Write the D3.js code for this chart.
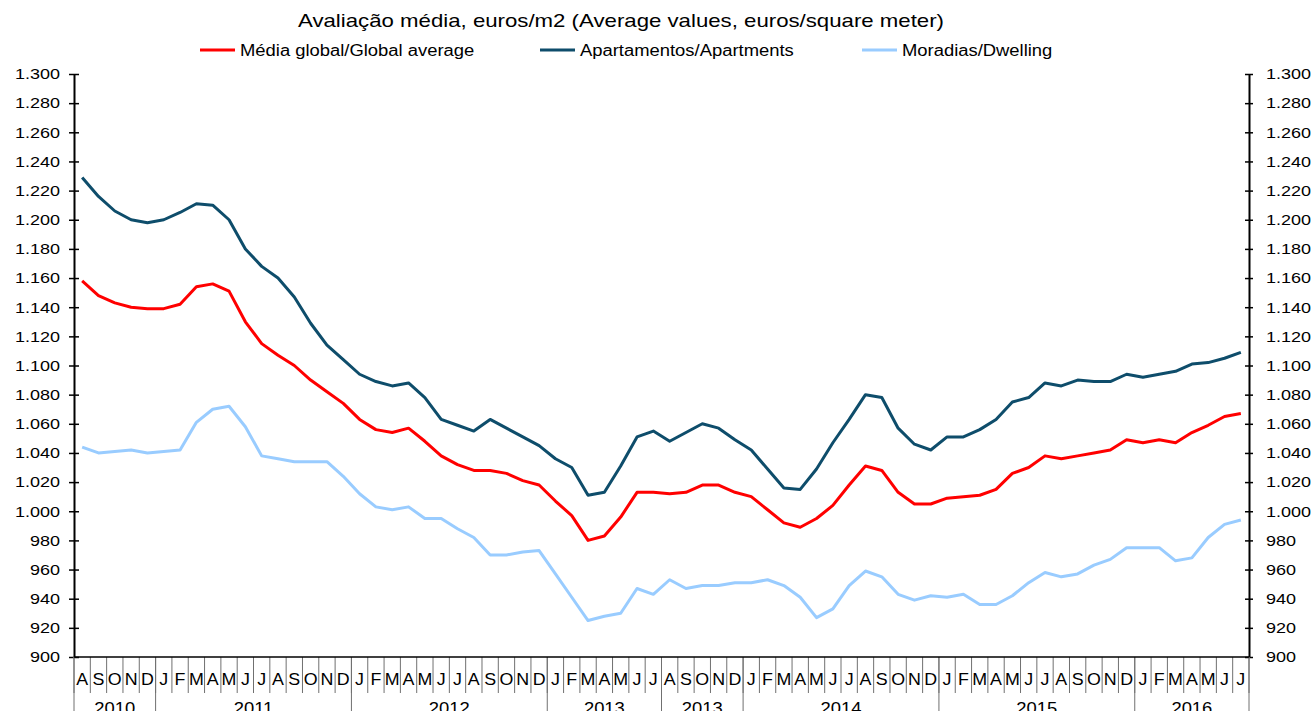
<!DOCTYPE html>
<html>
<head>
<meta charset="utf-8">
<script src="https://cdn.jsdelivr.net/npm/d3@7"></script>
<style>
  body { margin: 0; background: #fff; }
  svg { display: block; font-family: "Liberation Sans", Arial, sans-serif; }
</style>
</head>
<body>
<svg id="chart"></svg>
<script>
// month initials, Aug 2010 .. Jul 2016
const monthLabels = [
  "A","S","O","N","D",
  "J","F","M","A","M","J","J","A","S","O","N","D",
  "J","F","M","A","M","J","J","A","S","O","N","D",
  "J","F","M","A","M","J","J",
  "A","S","O","N","D",
  "J","F","M","A","M","J","J","A","S","O","N","D",
  "J","F","M","A","M","J","J","A","S","O","N","D",
  "J","F","M","A","M","J","J"
];
const yearLabels = ["2010", "2011", "2012", "2013", "2013", "2014", "2015", "2016"];
const yearSpans = [5, 12, 12, 7, 5, 12, 12, 7];

const globalAvg = [
  1158, 1148, 1143, 1140, 1139, 1139, 1142, 1154, 1156, 1151, 1130, 1115,
  1107, 1100, 1090, 1082, 1074, 1063, 1056, 1054, 1057, 1048, 1038, 1032,
  1028, 1028, 1026, 1021, 1018, 1007, 997, 980, 983, 996, 1013, 1013,
  1012, 1013, 1018, 1018, 1013, 1010, 1001, 992, 989, 995, 1004, 1018,
  1031, 1028, 1013, 1005, 1005, 1009, 1010, 1011, 1015, 1026, 1030, 1038,
  1036, 1038, 1040, 1042, 1049, 1047, 1049, 1047, 1054, 1059, 1065, 1067
];
const apartments = [
  1229, 1216, 1206, 1200, 1198, 1200, 1205, 1211, 1210, 1200, 1180, 1168,
  1160, 1147, 1129, 1114, 1104, 1094, 1089, 1086, 1088, 1078, 1063, 1059,
  1055, 1063, 1057, 1051, 1045, 1036, 1030, 1011, 1013, 1031, 1051, 1055,
  1048, 1054, 1060, 1057, 1049, 1042, 1029, 1016, 1015, 1029, 1047, 1063,
  1080, 1078, 1057, 1046, 1042, 1051, 1051, 1056, 1063, 1075, 1078, 1088,
  1086, 1090, 1089, 1089, 1094, 1092, 1094, 1096, 1101, 1102, 1105, 1109
];
const dwelling = [
  1044, 1040, 1041, 1042, 1040, 1041, 1042, 1061, 1070, 1072, 1058, 1038,
  1036, 1034, 1034, 1034, 1024, 1012, 1003, 1001, 1003, 995, 995, 988,
  982, 970, 970, 972, 973, 957, 941, 925, 928, 930, 947, 943,
  953, 947, 949, 949, 951, 951, 953, 949, 941, 927, 933, 949,
  959, 955, 943, 939, 942, 941, 943, 936, 936, 942, 951, 958,
  955, 957, 963, 967, 975, 975, 975, 966, 968, 982, 991, 994
];

const seriesNames = ["Média global/Global average", "Apartamentos/Apartments", "Moradias/Dwelling"];
const seriesColors = ["#ff0000", "#0e4d6b", "#99ccff"];
const yTicks = d3.range(900, 1301, 20);

const width = 1312;
const height = 711;
const margin = { top: 74, right: 63, bottom: 54, left: 74 };

const svg = d3.select("#chart")
  .attr("width", width)
  .attr("height", height);

// the source text is drawn a bit wider than the font's natural width
function stretch(sel, k) {
  sel.each(function () {
    const w = this.getComputedTextLength();
    d3.select(this)
      .attr("textLength", w * k)
      .attr("lengthAdjust", "spacingAndGlyphs");
  });
}

const x = d3.scaleBand()
  .domain(d3.range(monthLabels.length))
  .range([margin.left, width - margin.right])
  .padding(0);

const y = d3.scaleLinear()
  .domain([900, 1300])
  .range([height - margin.bottom, margin.top]);

const locale = d3.formatLocale({ decimal: ",", thousands: ".", grouping: [3], currency: ["", "€"] });
const fmt = locale.format(",");

// title
svg.append("text")
  .attr("x", 621)
  .attr("y", 27)
  .attr("text-anchor", "middle")
  .attr("font-size", "19px")
  .attr("textLength", 646)
  .attr("lengthAdjust", "spacingAndGlyphs")
  .text("Avaliação média, euros/m2 (Average values, euros/square meter)");

// legend
const legendX = [200, 540, 862];
const legend = svg.append("g");
seriesNames.forEach((name, i) => {
  legend.append("line")
    .attr("x1", legendX[i])
    .attr("x2", legendX[i] + 35)
    .attr("y1", 50)
    .attr("y2", 50)
    .attr("stroke", seriesColors[i])
    .attr("stroke-width", 3);
  legend.append("text")
    .attr("x", legendX[i] + 40)
    .attr("y", 56)
    .attr("font-size", "16px")
    .text(name);
});
stretch(legend.selectAll("text"), 1.15);

// y axes
const plotBottom = height - margin.bottom;
const leftAxis = svg.append("g")
  .attr("transform", `translate(${margin.left},0)`)
  .call(d3.axisLeft(y).tickValues(yTicks).tickFormat(fmt).tickSize(5).tickSizeOuter(0).tickPadding(9));
const rightAxis = svg.append("g")
  .attr("transform", `translate(${width - margin.right},0)`)
  .call(d3.axisRight(y).tickValues(yTicks).tickFormat(fmt).tickSize(4).tickSizeOuter(0).tickPadding(13));

leftAxis.selectAll(".tick line").attr("x1", 5).attr("stroke-width", 1.5);
rightAxis.selectAll(".tick line").attr("x1", -4).attr("stroke-width", 1.5);
[leftAxis, rightAxis].forEach(g => {
  g.select(".domain").attr("stroke-width", 2);
  g.selectAll("text").attr("font-size", "15px").attr("fill", "#000")
    .attr("font-family", "'Liberation Sans', Arial, sans-serif");
  stretch(g.selectAll(".tick text"), 1.2);
});

// category axis: month band + year band
const cat = svg.append("g");
const monthBottom = plotBottom + 36;
const edgeX = d => d < monthLabels.length ? x(d) : x.range()[1];

// separators between months
cat.selectAll("line.msep")
  .data(d3.range(monthLabels.length + 1))
  .join("line")
  .attr("class", "msep")
  .attr("x1", edgeX)
  .attr("x2", edgeX)
  .attr("y1", plotBottom)
  .attr("y2", monthBottom)
  .attr("stroke", "#707070")
  .attr("stroke-width", 1);

cat.selectAll("text.month")
  .data(monthLabels)
  .join("text")
  .attr("class", "month")
  .attr("x", (d, i) => x(i) + x.bandwidth() / 2)
  .attr("y", plotBottom + 28)
  .attr("text-anchor", "middle")
  .attr("font-size", "16.5px")
  .text(d => d);
stretch(cat.selectAll("text.month"), 1.08);

// year separators and labels
const yearStarts = yearSpans.map((n, i) => d3.sum(yearSpans.slice(0, i)));
const yearEdges = [...yearStarts, monthLabels.length];
cat.selectAll("line.ysep")
  .data(yearEdges)
  .join("line")
  .attr("class", "ysep")
  .attr("x1", edgeX)
  .attr("x2", edgeX)
  .attr("y1", plotBottom)
  .attr("y2", height)
  .attr("stroke", "#707070")
  .attr("stroke-width", 1);

cat.selectAll("text.year")
  .data(yearLabels)
  .join("text")
  .attr("class", "year")
  .attr("x", (d, i) => x(yearStarts[i]) + yearSpans[i] * x.bandwidth() / 2)
  .attr("y", height + 3)
  .attr("text-anchor", "middle")
  .attr("font-size", "16px")
  .text(d => d);
stretch(cat.selectAll("text.year"), 1.15);

// bottom axis line
svg.append("line")
  .attr("x1", margin.left)
  .attr("x2", width - margin.right)
  .attr("y1", plotBottom)
  .attr("y2", plotBottom)
  .attr("stroke", "#000")
  .attr("stroke-width", 1.5);

// lines
const line = d3.line()
  .x((d, i) => x(i) + x.bandwidth() / 2)
  .y(d => y(d));

[globalAvg, apartments, dwelling].forEach((values, k) => {
  svg.append("path")
    .datum(values)
    .attr("fill", "none")
    .attr("stroke", seriesColors[k])
    .attr("stroke-width", 3)
    .attr("stroke-linejoin", "round")
    .attr("d", line);
});
</script>
</body>
</html>
